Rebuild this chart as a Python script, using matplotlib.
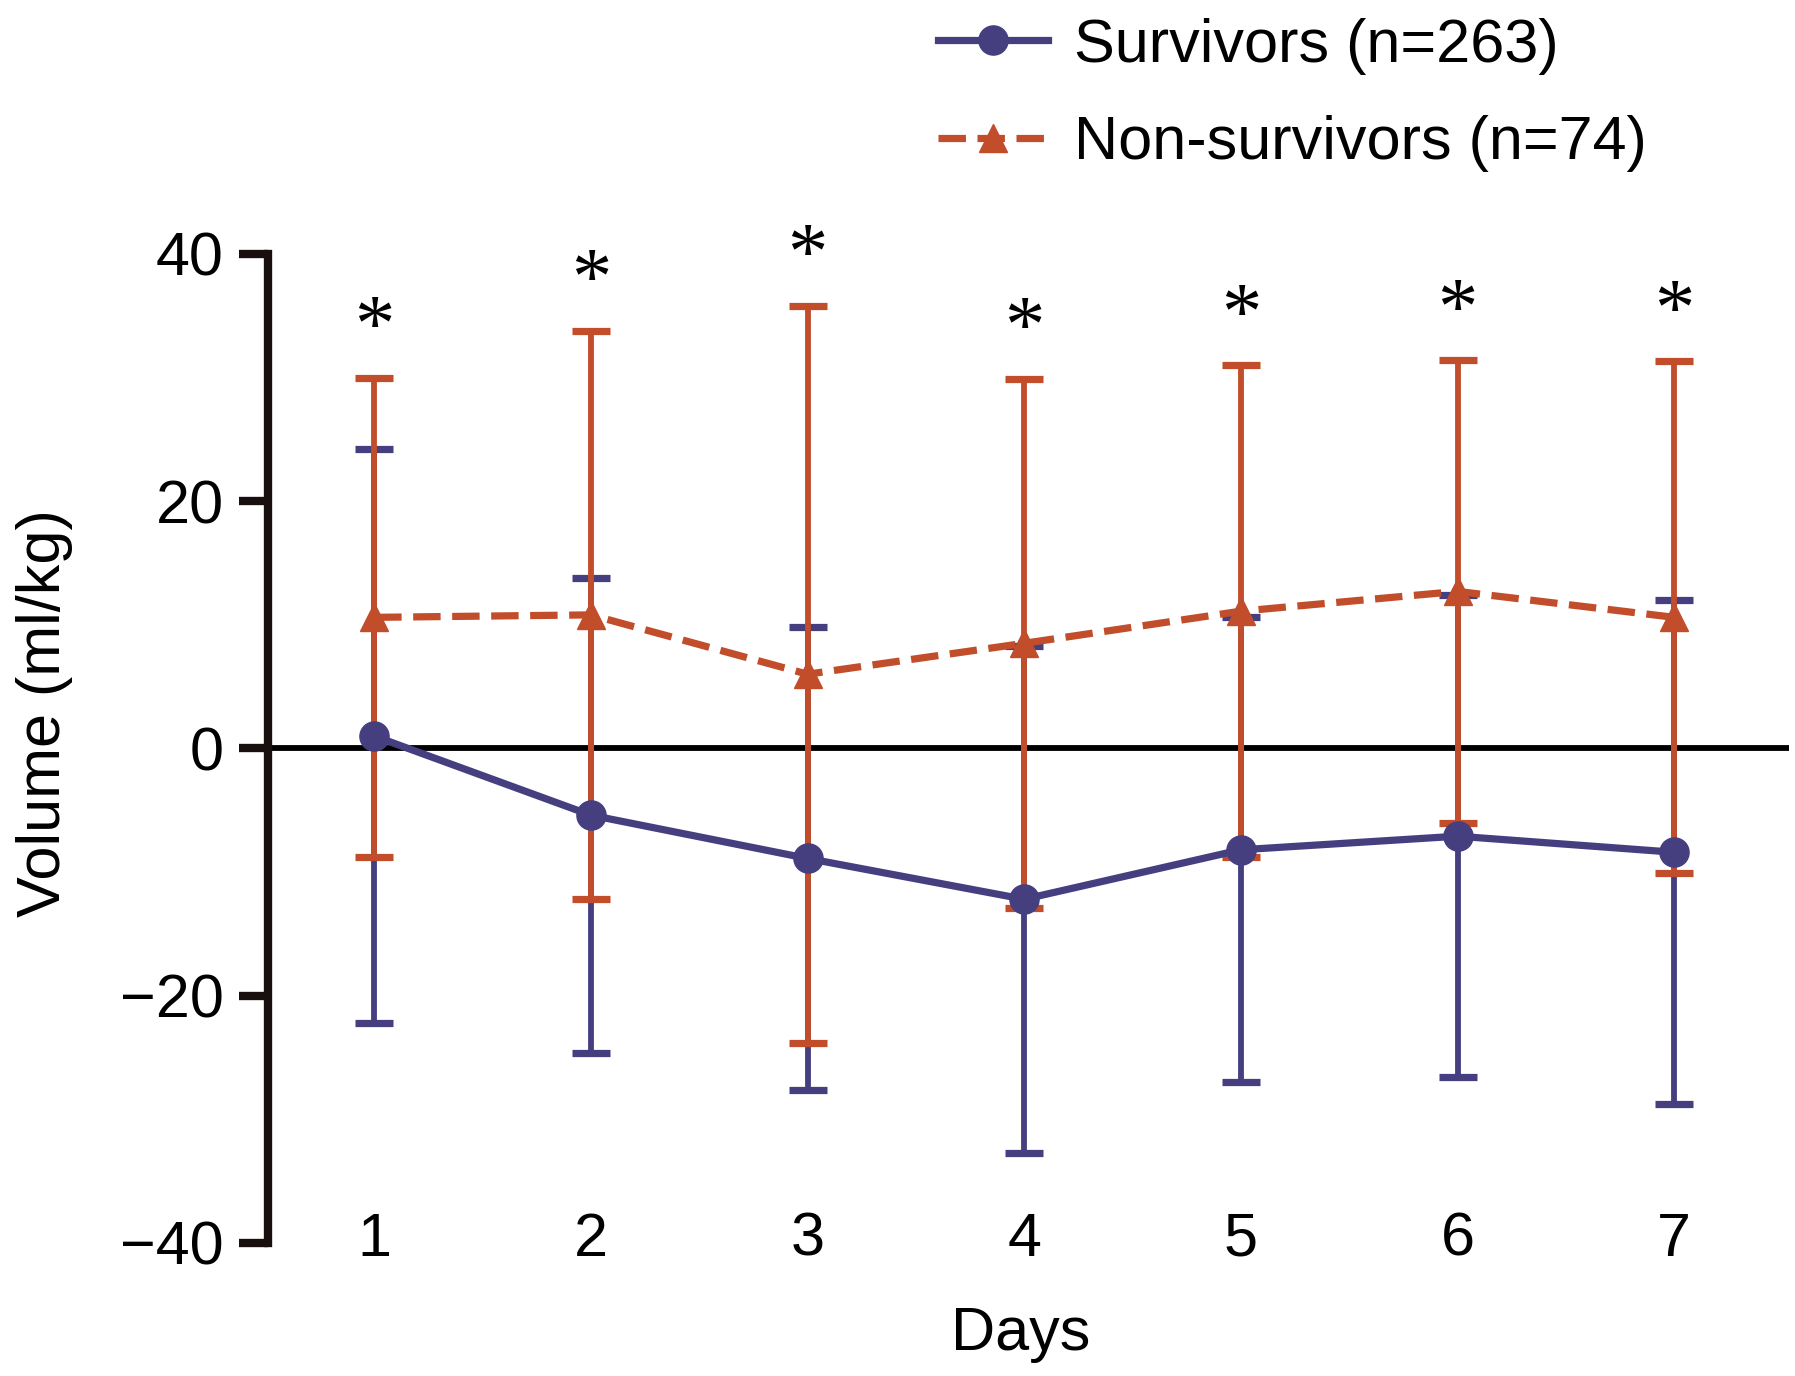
import matplotlib
matplotlib.use("Agg")
import matplotlib.pyplot as plt

plt.rcParams['font.family'] = ['Liberation Sans', 'DejaVu Sans']

days = [1, 2, 3, 4, 5, 6, 7]
day_labels = ["1", "2", "3", "4", "5", "6", "7"]

# Survivors (n=263): mean and SD
surv_mean = [1.0, -5.4, -8.9, -12.2, -8.2, -7.1, -8.4]
surv_sd = [23.2, 19.2, 18.7, 20.5, 18.8, 19.5, 20.4]

# Non-survivors (n=74): mean and SD
nonsurv_mean = [10.6, 10.8, 6.0, 8.5, 11.1, 12.7, 10.6]
nonsurv_sd = [19.4, 23.0, 29.8, 21.4, 19.9, 18.7, 20.7]

# significance markers on every day
signif = [True, True, True, True, True, True, True]

yticks = [-40, -20, 0, 20, 40]

blue = '#453f80'
orange = '#c14d2b'
axis_col = '#1a0f0f'

fig = plt.figure(figsize=(17.95, 13.76), dpi=100)
ax = fig.add_axes([0.1493, 0.0967, 0.8474, 0.7188])

# error bars first, orange over blue
ax.errorbar(days, surv_mean, yerr=surv_sd, fmt='none', ecolor=blue,
            elinewidth=4.2, capsize=13.5, capthick=5.2, zorder=2)
ax.errorbar(days, nonsurv_mean, yerr=nonsurv_sd, fmt='none', ecolor=orange,
            elinewidth=4.2, capsize=13.5, capthick=5.2, zorder=3)

ax.axhline(0, color='black', lw=4.2, zorder=1)

ax.plot(days, surv_mean, color=blue, lw=5.2, marker='o', markersize=21,
        label='Survivors (n=263)', zorder=4)
ax.plot(days, nonsurv_mean, color=orange, lw=5.2, ls=(0, (3.8, 1.6)),
        marker='^', markersize=20, label='Non-survivors (n=74)', zorder=5)

for d, m, s, flag in zip(days, nonsurv_mean, nonsurv_sd, signif):
    if flag:
        ax.text(d, m + s + 4.5, '*', ha='center', va='center_baseline',
                fontsize=58, family=['Liberation Serif', 'DejaVu Serif'],
                clip_on=False)

ax.set_xlim(0.51, 7.53)
ax.set_ylim(-40, 40)

ax.spines['top'].set_visible(False)
ax.spines['right'].set_visible(False)
ax.spines['bottom'].set_visible(False)
ax.spines['left'].set_bounds(-40, 40)
ax.spines['left'].set_linewidth(6)
ax.spines['left'].set_color(axis_col)

ax.set_yticks(yticks)
ax.tick_params(axis='y', length=21, width=6, pad=11, labelsize=44,
               color=axis_col)
ax.set_xticks(days)
ax.set_xticklabels(day_labels)
ax.tick_params(axis='x', length=0, pad=-2, labelsize=44)
plt.setp(ax.get_xticklabels(), va='center')

ax.set_xlabel('Days', fontsize=44, va='center')
ax.xaxis.set_label_coords(0.495, -0.093)
ax.set_ylabel('Volume (ml/kg)', fontsize=44, va='center')
ax.yaxis.set_label_coords(-0.147, 0.536)

fig.legend(loc='upper left', bbox_to_anchor=(0.5226, 0.987), frameon=False,
           fontsize=44, handlelength=1.8, handletextpad=0.42,
           labelspacing=0.66, borderpad=0, borderaxespad=0)

fig.savefig('out.png', dpi=100)
